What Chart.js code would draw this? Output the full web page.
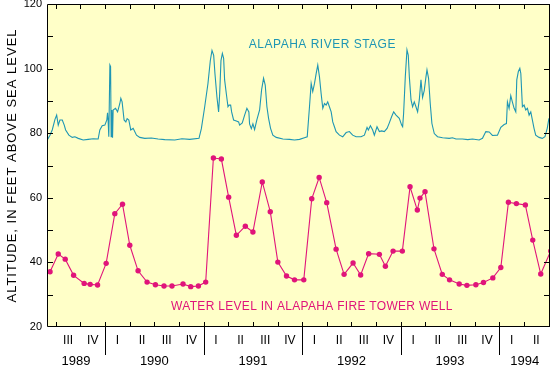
<!DOCTYPE html>
<html><head><meta charset="utf-8">
<script src="https://cdn.jsdelivr.net/npm/chart.js@4.4.0/dist/chart.umd.min.js"></script>
<style>html,body{margin:0;padding:0;background:#fff}canvas{display:block}</style>
</head><body>
<canvas id="c" width="554" height="369" style="width:554px;height:369px"></canvas>
<script>
// ---- data (decimal years) ----
const stageDates = [
 1989.418,1989.441,1989.464,1989.492,1989.509,1989.525,1989.542,1989.566,1989.586,1989.600,
 1989.633,1989.667,1989.694,1989.728,1989.778,1989.829,1989.880,1989.930,1989.947,1989.971,
 1989.998,1990.018,1990.025,1990.031,1990.038,1990.049,1990.056,1990.062,1990.069,1990.076,
 1990.082,1990.106,1990.127,1990.150,1990.160,1990.173,1990.193,1990.211,1990.224,1990.241,
 1990.261,1990.285,1990.319,1990.352,1990.403,1990.470,1990.538,1990.606,1990.707,1990.780,
 1990.859,1990.953,1990.977,
 1991.011,1991.044,1991.068,1991.085,1991.102,1991.115,1991.135,1991.152,1991.163,1991.176,
 1991.190,1991.203,1991.213,1991.230,1991.247,1991.257,1991.274,1991.284,1991.304,1991.332,
 1991.355,1991.365,1991.392,1991.416,1991.439,1991.459,1991.466,1991.484,1991.500,1991.517,
 1991.540,1991.568,1991.588,1991.608,1991.625,1991.642,1991.659,1991.679,1991.702,1991.737,
 1991.804,1991.871,1991.922,1991.973,
 1992.023,1992.051,1992.074,1992.091,1992.107,1992.125,1992.142,1992.158,1992.175,1992.192,
 1992.209,1992.226,1992.243,1992.259,1992.276,1992.294,1992.310,1992.327,1992.344,1992.378,
 1992.411,1992.446,1992.479,1992.512,1992.547,1992.597,1992.631,1992.658,1992.671,1992.692,
 1992.715,1992.732,1992.759,1992.783,1992.806,1992.833,1992.861,1992.884,1992.907,1992.928,
 1992.952,1992.985,
 1993.009,1993.019,1993.029,1993.046,1993.063,1993.076,1993.087,1993.104,1993.120,1993.137,
 1993.154,1993.171,1993.188,1993.205,1993.221,1993.238,1993.256,1993.266,1993.282,1993.299,
 1993.316,1993.340,1993.373,1993.424,1993.492,1993.525,1993.560,1993.626,1993.680,1993.728,
 1993.795,1993.829,1993.863,1993.897,1993.930,1993.981,
 1994.015,1994.049,1994.072,1994.082,1994.099,1994.116,1994.132,1994.150,1994.167,1994.177,
 1994.193,1994.208,1994.218,1994.234,1994.251,1994.268,1994.285,1994.302,1994.319,1994.335,
 1994.352,1994.369,1994.403,1994.436,1994.463,1994.486,1994.503
];
const stageValues = [
 78.1,79.4,81.0,84.3,85.6,82.5,84.1,84.1,82.5,81.0,
 79.4,78.7,78.9,78.4,77.9,78.1,78.3,78.2,81.0,82.3,
 82.5,84.1,86.3,84.0,78.9,101.1,100.6,78.9,87.2,78.6,
 87.2,87.7,86.6,89.2,90.8,89.7,84.1,83.5,84.5,84.1,
 81.0,81.5,79.4,78.7,78.4,78.5,78.2,78.0,77.9,78.3,
 78.1,78.4,81.4,
 88.2,95.4,102.5,105.6,104.1,98.4,91.2,86.6,92.3,102.5,
 104.7,103.2,96.5,92.3,88.2,88.7,88.7,86.6,84.1,83.8,
 83.5,82.5,83.2,85.6,87.7,86.6,82.9,81.4,82.9,81.1,
 84.1,87.2,93.4,97.0,94.9,88.2,84.6,81.5,79.4,78.7,
 78.2,78.1,77.9,78.1,
 78.6,78.9,88.2,95.4,92.9,95.4,98.5,101.1,97.5,92.3,
 87.7,89.2,88.7,89.7,88.2,86.6,83.5,82.0,80.5,79.4,
 78.9,80.2,80.5,79.4,78.9,78.9,79.4,81.8,81.0,82.3,
 81.0,79.4,82.0,80.5,80.7,80.5,81.5,83.2,85.1,86.6,
 85.6,84.6,
 82.5,82.0,86.2,97.5,105.8,104.2,97.5,90.3,88.2,89.7,
 88.2,86.6,90.3,96.5,91.1,93.2,97.5,99.6,97.0,89.2,
 83.0,79.9,78.9,78.6,78.4,78.6,78.2,78.2,78.0,78.2,
 77.9,78.4,80.5,80.4,79.3,79.4,
 81.8,82.7,83.0,89.7,87.7,91.6,89.7,87.7,86.6,96.5,
 99.1,100.1,98.5,88.2,88.7,87.2,87.7,85.6,86.6,84.1,
 81.5,79.4,78.7,78.4,78.9,81.5,84.6
];
const wellDates = [
 1989.442,1989.525,1989.596,1989.681,1989.788,1989.849,1989.924,
 1990.011,1990.099,1990.177,1990.251,1990.335,1990.426,1990.511,1990.598,1990.679,1990.791,1990.869,1990.947,
 1991.021,1991.099,1991.180,1991.254,1991.332,1991.423,1991.500,1991.595,1991.676,1991.753,1991.841,1991.922,
 1992.016,1992.097,1992.172,1992.249,1992.344,1992.425,1992.516,1992.593,1992.674,1992.783,1992.844,1992.922,
 1993.016,1993.094,1993.168,1993.195,1993.246,1993.337,1993.421,1993.495,1993.593,1993.671,1993.762,1993.839,1993.934,
 1994.015,1994.092,1994.173,1994.264,1994.339,1994.420,1994.521
];
const wellValues = [
 37.1,42.6,41.0,36.0,33.5,33.2,33.0,
 39.7,55.1,58.0,45.3,37.4,33.9,33.1,32.7,32.7,33.3,32.5,32.7,
 33.9,72.3,72.0,60.2,48.4,51.2,49.4,64.9,55.7,40.1,35.8,34.6,
 34.6,59.7,66.3,58.5,44.1,36.3,39.8,36.1,42.7,42.5,38.8,43.5,
 43.5,63.4,56.2,59.9,61.9,44.2,36.3,34.6,33.3,32.9,33.1,33.8,35.2,
 38.4,58.6,58.2,57.8,46.9,36.4,43.5
];
const quarterLabels = ['I','II','III','IV'];
const yearLabels = ['1989','1990','1991','1992','1993','1994'];
const yTickValues = [20,40,60,80,100,120];
const xMin = 1989.411, xMax = 1994.514;
const yTitle = 'ALTITUDE, IN FEET ABOVE SEA LEVEL';
const stageLabel = 'ALAPAHA RIVER STAGE';
const wellLabel = 'WATER LEVEL IN ALAPAHA FIRE TOWER WELL';

const TEAL = '#1E96B4';
const MAG = '#E0147A';
const BG = '#FFFFC8';
const FONT = '"Liberation Sans", Arial, sans-serif';

const framePlugin = {
  id: 'frame',
  beforeDraw(chart) {
    const {ctx, chartArea: a} = chart;
    ctx.save();
    ctx.fillStyle = BG;
    ctx.fillRect(a.left, a.top, a.right - a.left, a.bottom - a.top);
    ctx.restore();
  },
  afterDraw(chart) {
    const {ctx, chartArea: a, scales: {x, y}} = chart;
    ctx.save();
    ctx.strokeStyle = '#000';
    ctx.lineWidth = 1;
    ctx.beginPath();
    ctx.rect(a.left + 0.5, a.top + 0.5, a.right - a.left - 1, a.bottom - a.top - 1);
    // y minor/major ticks inward on both sides
    for (let v = 30; v <= 110; v += 10) {
      const py = Math.round(y.getPixelForValue(v)) + 0.5;
      ctx.moveTo(a.left, py); ctx.lineTo(a.left + 6, py);
      ctx.moveTo(a.right, py); ctx.lineTo(a.right - 6, py);
    }
    // quarter ticks
    for (let q = Math.ceil(xMin * 4) / 4; q <= xMax; q += 0.25) {
      const px = Math.round(x.getPixelForValue(q)) + 0.5;
      const isYear = Math.abs(q - Math.round(q)) < 1e-6;
      ctx.moveTo(px, a.bottom - 5); ctx.lineTo(px, isYear ? a.bottom + 28 : a.bottom);
      ctx.moveTo(px, a.top); ctx.lineTo(px, a.top + 5);
    }
    ctx.stroke();

    // quarter labels
    ctx.fillStyle = '#000';
    ctx.textAlign = 'center';
    ctx.textBaseline = 'middle';
    ctx.font = '12px ' + FONT;
    for (let q = Math.ceil(xMin * 4) / 4; q + 0.25 <= xMax + 0.02; q += 0.25) {
      const qi = Math.round((q - Math.floor(q + 1e-6)) * 4) % 4;
      ctx.fillText(quarterLabels[qi], x.getPixelForValue(q + 0.125), a.bottom + 14);
    }
    // year labels
    ctx.font = '13px ' + FONT;
    yearLabels.forEach(lbl => {
      const yr = +lbl;
      const l = Math.max(yr, xMin), r = Math.min(yr + 1, xMax);
      ctx.fillText(lbl, (x.getPixelForValue(l) + x.getPixelForValue(r)) / 2, a.bottom + 34);
    });

    // series labels
    ctx.font = '12px ' + FONT;
    try { ctx.letterSpacing = '0.5px'; } catch (e) {}
    ctx.fillStyle = TEAL;
    ctx.fillText(stageLabel, x.getPixelForValue(1992.205), y.getPixelForValue(107.3));
    ctx.fillStyle = MAG;
    try { ctx.letterSpacing = '0.3px'; } catch (e) {}
    ctx.fillText(wellLabel, x.getPixelForValue(1992.099), y.getPixelForValue(26.4));

    // y title
    ctx.fillStyle = '#000';
    ctx.font = '13px ' + FONT;
    try { ctx.letterSpacing = '1px'; } catch (e) {}
    ctx.translate(12, (a.top + a.bottom) / 2);
    ctx.rotate(-Math.PI / 2);
    ctx.fillText(yTitle, 0, 0);
    ctx.restore();
  }
};

new Chart(document.getElementById('c').getContext('2d'), {
  type: 'line',
  data: {
    datasets: [
      {
        label: stageLabel,
        data: stageDates.map((d, i) => ({x: d, y: stageValues[i]})),
        borderColor: TEAL, borderWidth: 1.1, pointRadius: 0, tension: 0, fill: false
      },
      {
        label: wellLabel,
        data: wellDates.map((d, i) => ({x: d, y: wellValues[i]})),
        borderColor: MAG, borderWidth: 1.1, tension: 0, fill: false,
        pointRadius: 2.7, pointBorderWidth: 0, pointBackgroundColor: MAG, pointStyle: 'circle'
      }
    ]
  },
  options: {
    responsive: false, animation: false, devicePixelRatio: 1,
    layout: {padding: {top: 4, right: 3, bottom: 42, left: 0}},
    plugins: {legend: {display: false}, tooltip: {enabled: false}},
    scales: {
      x: {type: 'linear', min: xMin, max: xMax, display: false},
      y: {
        type: 'linear', min: 20, max: 120,
        afterBuildTicks(s) { s.ticks = yTickValues.map(v => ({value: v})); },
        afterFit(s) { s.width = 47; s.paddingTop = 0; s.paddingBottom = 0; },
        grid: {display: false, drawTicks: false},
        border: {display: false},
        ticks: {color: '#000', font: {family: FONT, size: 11}, padding: 5}
      }
    }
  },
  plugins: [framePlugin]
});
</script>
</body></html>
